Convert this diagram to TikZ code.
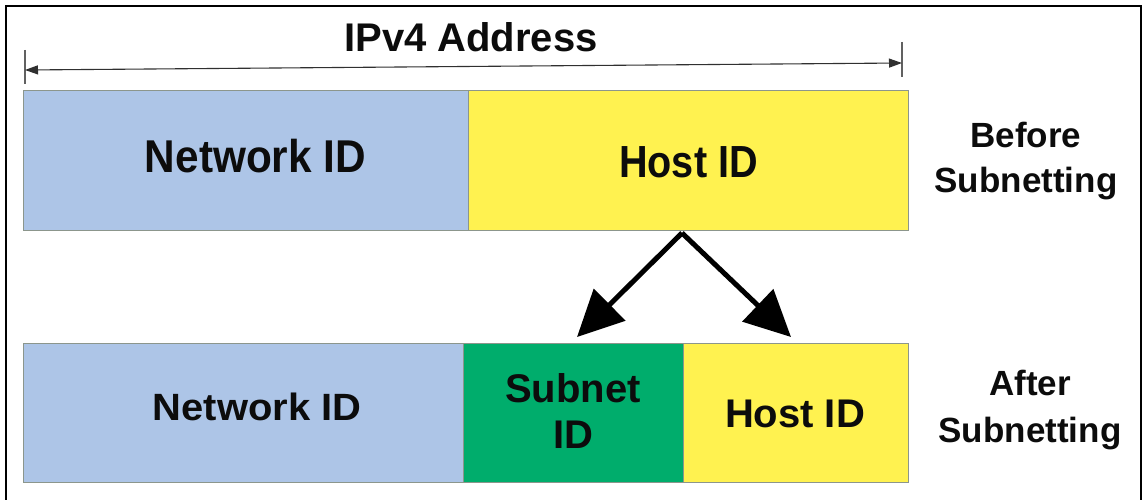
\documentclass[tikz,border=0pt]{standalone}
\usepackage{graphicx}
\usepackage{fontspec}
\setmainfont{Liberation Sans}
\usetikzlibrary{arrows.meta,calc}
\definecolor{netblue}{RGB}{173,197,231}
\definecolor{hostyellow}{RGB}{255,242,80}
\definecolor{subgreen}{RGB}{0,173,108}
\definecolor{edgegray}{RGB}{140,150,140}
\definecolor{ink}{RGB}{12,12,12}
\begin{document}
\begin{tikzpicture}[x=1pt,y=-1pt,
  seg/.style={draw=edgegray,line width=0.9pt,inner sep=0pt,outer sep=0pt,anchor=north west},
  lbl/.style={inner sep=0pt,text=ink,anchor=base,align=center},
  split/.style={line width=5pt,draw=black,-{Triangle[length=46pt,width=44pt]}},
  dim/.style={line width=1.1pt,draw=ink!85,{Triangle[length=13pt,width=9pt]}-{Triangle[length=13pt,width=9pt]}},
  tickmark/.style={line width=1.1pt,draw=ink!65}]
\useasboundingbox (0,0) rectangle (1143,500);
\fill[white] (0,0) rectangle (1143,500);
\draw[line width=2.6pt] (6,504) -- (6,6) -- (1141,6) -- (1141,504);

% boxes
\node[seg,fill=netblue,minimum width=445pt,minimum height=140pt] (net1) at (23,90) {};
\node[seg,fill=hostyellow,minimum width=440pt,minimum height=140pt] (host1) at (468,90) {};
\node[seg,fill=netblue,minimum width=440pt,minimum height=139pt] (net2) at (23,343) {};
\node[seg,fill=subgreen,minimum width=220pt,minimum height=139pt] (sub2) at (463,343) {};
\node[seg,fill=hostyellow,minimum width=225pt,minimum height=139pt] (host2) at (683,343) {};

% dimension line
\coordinate (dimL) at (25,70);
\coordinate (dimR) at (902,63);
\draw[tickmark] (25,50) -- (25,84);
\draw[tickmark] (902,42) -- (902,77);
\draw[dim] (dimL) -- (dimR);
\node[lbl,font=\bfseries\fontsize{40}{48}\selectfont] (title) at (471,52) {IPv4 Address};

% labels in boxes
\node[lbl,font=\bfseries\fontsize{46}{52}\selectfont] (net1t) at (255.5,172) {\scalebox{0.92}[1]{Network ID}};
\node[lbl,font=\bfseries\fontsize{45}{52}\selectfont] (host1t) at (688.5,177) {\scalebox{0.88}[1]{Host ID}};
\node[lbl,font=\bfseries\fontsize{38}{46}\selectfont] (net2t) at (257,420) {\scalebox{1.05}[1]{Network ID}};
\node[lbl,font=\bfseries\fontsize{40}{46}\selectfont] (sub2t) at (573,448) {Subnet\\ID};
\node[lbl,font=\bfseries\fontsize{40}{48}\selectfont] (host2t) at (795,427) {Host ID};

% side labels
\node[lbl,font=\bfseries\fontsize{35}{45}\selectfont] (before) at (1026,192) {Before\\Subnetting};
\node[lbl,font=\bfseries\fontsize{35}{47}\selectfont] (after) at (1030,442) {After\\Subnetting};

% split arrows
\coordinate (fork) at (682,233);
\coordinate (tipL) at (577,337);
\coordinate (tipR) at (791,337);
\draw[split] (fork) -- (tipL);
\draw[split] (fork) -- (tipR);
\end{tikzpicture}
\end{document}
